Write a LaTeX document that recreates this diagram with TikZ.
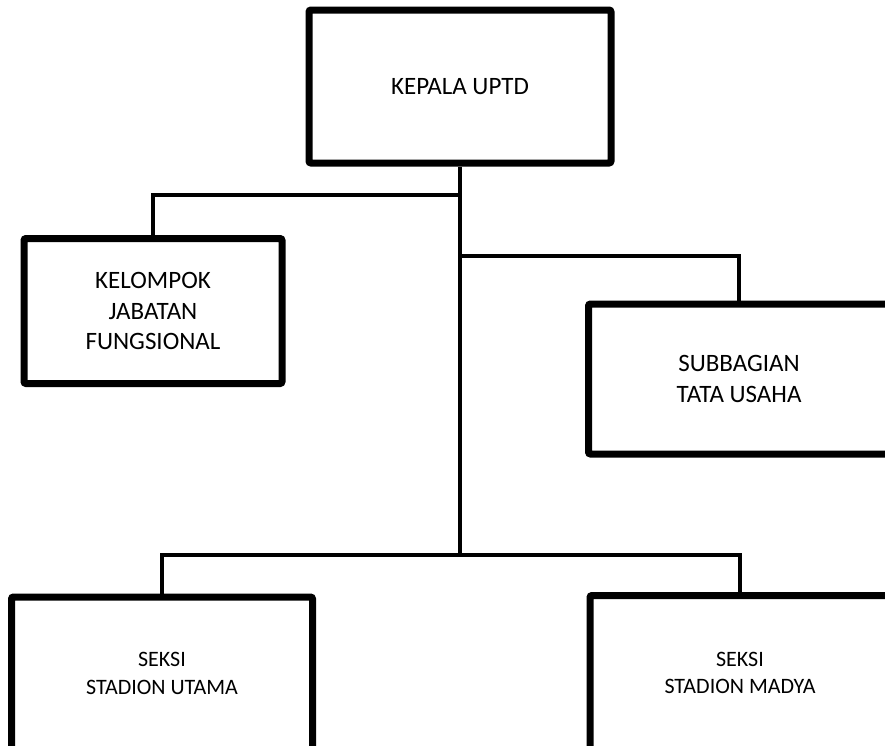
\documentclass[tikz,border=0pt]{standalone}
\usepackage{fontspec}
\setmainfont{Carlito}
\usepackage{tikz}
\usetikzlibrary{positioning,calc}

\begin{document}
\begin{tikzpicture}[x=1pt,y=-1pt,
    unitbox/.style={draw, line width=7pt, rounded corners=2pt, align=center, inner sep=0pt,
      font=\fontsize{25}{30.5}\selectfont},
    seksibox/.style={unitbox, font=\fontsize{22}{27.5}\selectfont},
    link/.style={line width=3.5pt}]
  \path[use as bounding box, fill=white] (0,0) rectangle (885,745);
  \node[unitbox, minimum width=302pt, minimum height=153pt] (kepala) at (460,86.5) {KEPALA UPTD};
  \node[unitbox, minimum width=258pt, minimum height=145pt] (kelompok) at (153,311) {KELOMPOK\\JABATAN\\FUNGSIONAL};
  \node[unitbox, minimum width=301pt, minimum height=150pt] (subbag) at (739,379) {SUBBAGIAN\\TATA USAHA};
  \node[seksibox, minimum width=301pt, minimum height=153pt] (utama) at (162,673.5) {SEKSI\\STADION UTAMA};
  \node[seksibox, minimum width=300pt, minimum height=155pt] (madya) at (740,673) {SEKSI\\STADION MADYA};
  \coordinate (forkL) at (460,195);
  \coordinate (forkR) at (460,256);
  \coordinate (forkB) at (460,555);
  \draw[link] (kepala.south) -- (forkB);
  \draw[link] (forkL) -| (kelompok.north);
  \draw[link] (forkR) -| (subbag.north);
  \draw[link] (utama.north) |- (forkB) -| (madya.north);
\end{tikzpicture}
\end{document}
